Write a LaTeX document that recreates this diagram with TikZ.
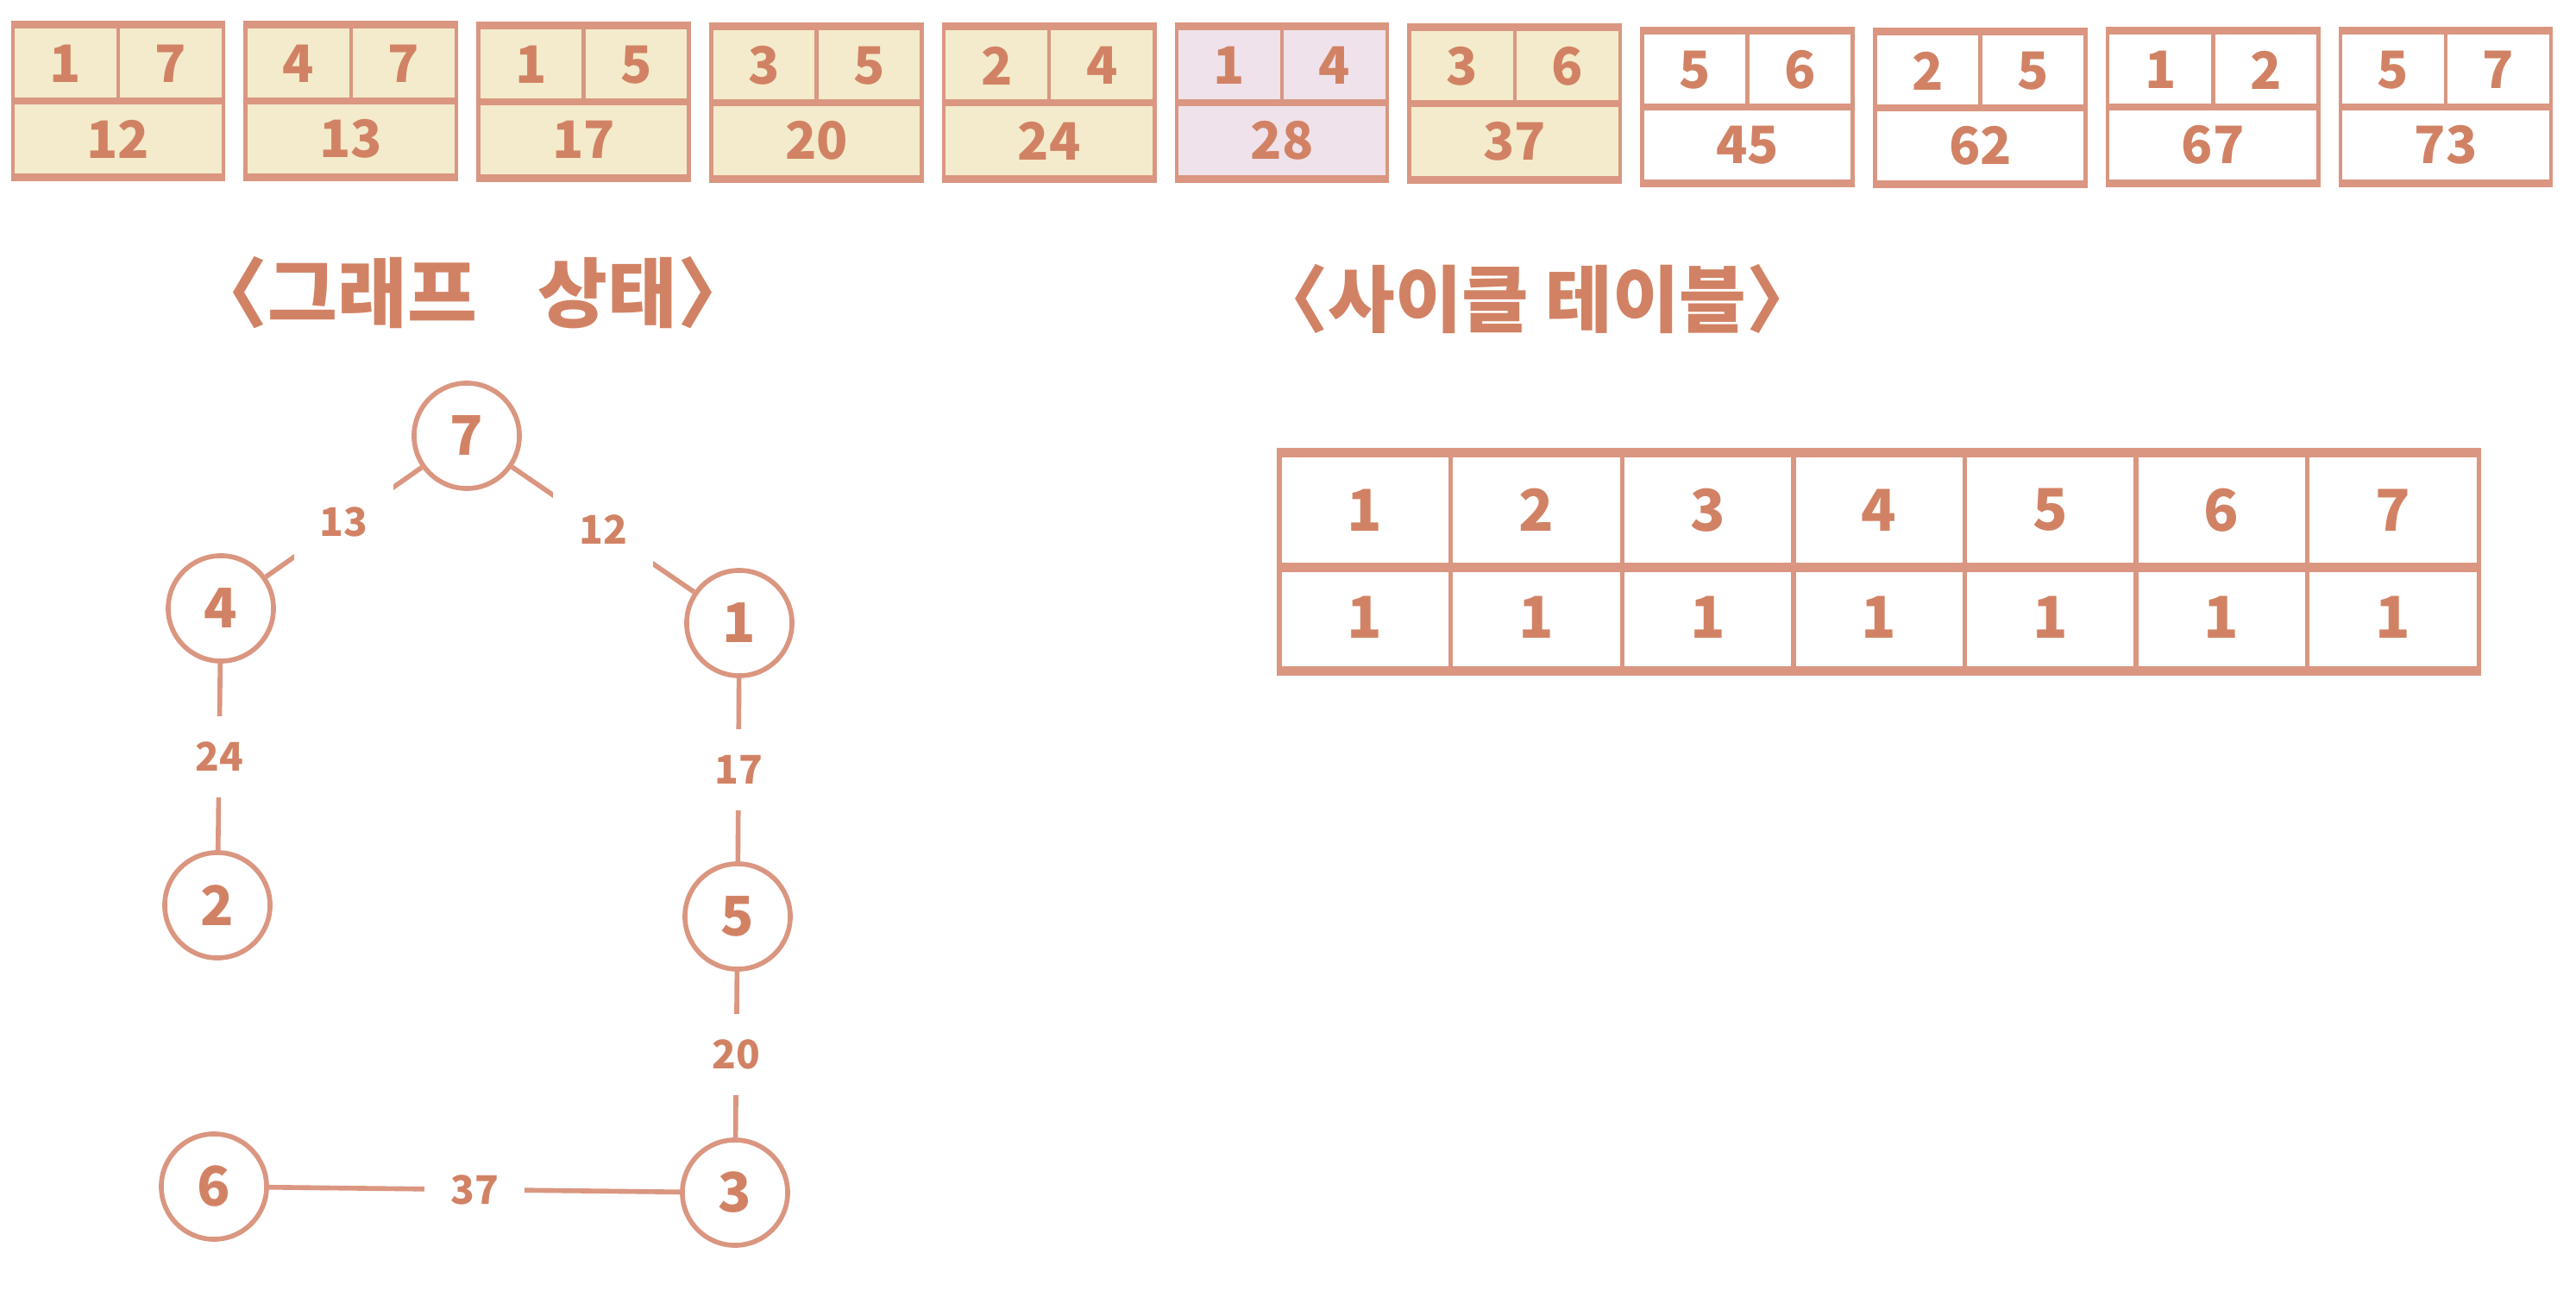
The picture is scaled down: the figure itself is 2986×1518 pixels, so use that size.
\documentclass[tikz,border=0pt]{standalone}
\usepackage{fontspec}
\setmainfont{Noto Sans CJK KR}
\usetikzlibrary{positioning}
\definecolor{penline}{RGB}{218,150,128}
\definecolor{pentext}{RGB}{210,130,100}
\definecolor{cardyel}{RGB}{243,235,203}
\definecolor{cardpink}{RGB}{239,226,235}

\begin{document}
\begin{tikzpicture}[
  x=0.01cm, y=-0.01cm,
  every node/.style={text=pentext,font=\bfseries},
  card/.style={draw=penline,line width=1.3pt,minimum width=2.44cm,
    minimum height=1.73cm,inner sep=0pt},
  penrule/.style={penline,line width=2.3pt},
  penbar/.style={penline,line width=1.3pt},
  cardnum/.style={font=\fontsize{17}{20}\selectfont\bfseries},
  vtx/.style={circle,draw=penline,line width=1.6pt,minimum size=1.22cm,
    inner sep=0pt,font=\fontsize{18}{20}\selectfont\bfseries},
  link/.style={penline,line width=1.6pt},
  wt/.style={fill=white,inner sep=0.3cm,font=\fontsize{13}{15}\selectfont\bfseries},
  cell/.style={draw=penline,line width=1.5pt,minimum width=1.986cm,
    inner sep=0pt,font=\fontsize{19}{22}\selectfont\bfseries},
  ttl/.style={font=\fontsize{25}{28}\selectfont\bfseries}
]
\useasboundingbox (0,0) rectangle (2986,1518);

% Sorted edge cards
\foreach \i/\y/\a/\b/\w/\col in {0/117/1/7/12/cardyel, 1/117/4/7/13/cardyel,
    2/118/1/5/17/cardyel, 3/119/3/5/20/cardyel, 4/119/2/4/24/cardyel,
    5/119/1/4/28/cardpink, 6/120/3/6/37/cardyel, 7/124/5/6/45/white,
    8/125/2/5/62/white, 9/124/1/2/67/white, 10/124/5/7/73/white}{
  \pgfmathsetmacro\cx{137+\i*269.8}
  \node[card,fill=\col] (c\i) at (\cx,\y) {};
  \draw[penbar] (c\i.north) -- (c\i.center);
  \draw[penrule] (c\i.west) -- (c\i.east);
  \draw[penrule] (c\i.north west) -- (c\i.north east);
  \draw[penrule] (c\i.south west) -- (c\i.south east);
  \node[cardnum] (a\i) at (\cx-61,\y-43) {\a};
  \node[cardnum] (b\i) at (\cx+61,\y-43) {\b};
  \node[cardnum] (w\i) at (\cx,\y+44) {\w};
}

% Titles
\node[ttl] (gtitle) at (548,339) {〈그래프\hspace{0.8em}상태〉};
\node[ttl,font=\fontsize{24}{27}\selectfont\bfseries] (ctitle) at (1782,347)
  {〈사이클 테이블〉};

% Graph state
\node[vtx] (v7) at (541,505)  {7};
\node[vtx] (v4) at (256,705)  {4};
\node[vtx] (v1) at (857,722)  {1};
\node[vtx] (v2) at (252,1049) {2};
\node[vtx] (v5) at (855,1062) {5};
\node[vtx] (v6) at (248,1375) {6};
\node[vtx] (v3) at (852,1382) {3};

\draw[link] (v7) -- node[wt]{13} (v4);
\draw[link] (v7) -- node[wt]{12} (v1);
\draw[link] (v4) -- node[wt]{24} (v2);
\draw[link] (v1) -- node[wt]{17} (v5);
\draw[link] (v5) -- node[wt]{20} (v3);
\draw[link] (v6) -- node[wt]{37} (v3);

% Cycle table
\foreach \k in {1,...,7}{
  \node[cell,minimum height=1.28cm] (h\k) at ({1582.3+(\k-1)*198.6},591) {\k};
  \node[cell,minimum height=1.20cm] (u\k) at ({1582.3+(\k-1)*198.6},715) {1};
}
\draw[penrule,line width=2.8pt] (h1.north west) -- (h7.north east);
\draw[penrule,line width=2.8pt] (h1.south west) -- (h7.south east);
\draw[penrule,line width=2.8pt] (u1.south west) -- (u7.south east);

\end{tikzpicture}
\end{document}
